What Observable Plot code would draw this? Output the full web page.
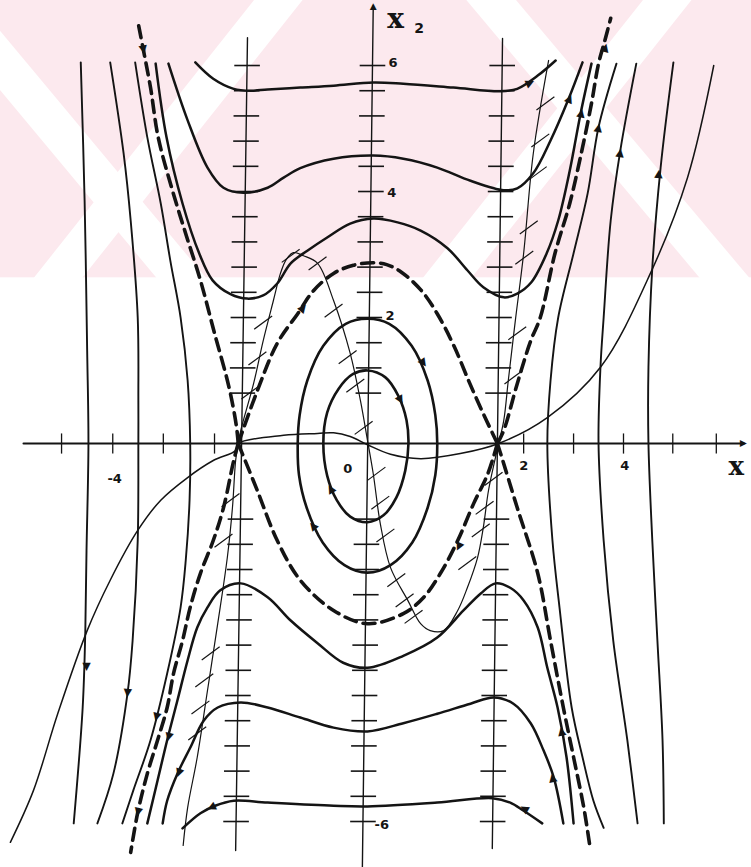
<!DOCTYPE html>
<html>
<head>
<meta charset="utf-8">
<script src="https://cdn.jsdelivr.net/npm/d3@7"></script>
<script src="https://cdn.jsdelivr.net/npm/@observablehq/plot@0.6"></script>
<style>
  body { margin: 0; background: #ffffff; }
  #chart svg { display: block; }
</style>
</head>
<body>
<div id="chart"></div>
<script>
// Phase portrait in the (x, x2) plane: centre at the origin, saddles at x = ±2.

// ---- straight isoclines (x2' = 0) and axes, as end points [x, x2] ----
const leftIsocline  = [[-1.875, 6.44], [-2.06, -6.46]];
const rightIsocline = [[2.11, 6.43], [1.95, -6.43]];
const x2Axis        = [[-0.08, -6.73], [0.09, 6.95]];
const xAxis         = [[-5.375, 0], [5.88, 0]];

// hatch levels (horizontal slope marks) along the isoclines and the x2 axis
const hatchLevels = [0.8, 1.2, 1.6, 2.0, 2.4, 2.8, 3.2, 3.6, 4.0, 4.4, 4.8, 5.2, 5.6, 6.0,
                     -1.2, -1.6, -2.0, -2.4, -2.8, -3.2, -3.6, -4.0, -4.4, -4.8, -5.2, -5.6, -6.0];
// tick marks on the x axis
const xTicks = [-4.78, -3.98, -3.19, -2.39, 2.44, 3.22, 4.0, 4.77, 5.45];

// ---- separatrices through the saddles (dashed) ----
const sepEyeTop = [[-2.02,0],[-1.72,0.84],[-1.41,1.59],[-1.09,2.06],[-0.84,2.43],[-0.53,2.70],[-0.22,2.83],[0.09,2.87],[0.30,2.84],[0.53,2.72],[0.84,2.43],[1.09,2.06],[1.35,1.55],[1.60,0.95],[1.82,0.45],[2.03,0]];
const sepEyeBottom = [[-2.02,0],[-1.72,-0.75],[-1.41,-1.54],[-1.05,-2.17],[-0.53,-2.65],[0,-2.86],[0.56,-2.70],[0.88,-2.44],[1.14,-2.06],[1.41,-1.54],[1.66,-0.95],[1.88,-0.48],[2.03,0]];
const sepUpperLeft = [[-2.02,0],[-2.05,0.29],[-2.17,0.92],[-2.39,1.75],[-2.61,2.59],[-2.84,3.33],[-3.06,4.06],[-3.27,4.86],[-3.39,5.65],[-3.50,6.24],[-3.59,6.71]];
const sepUpperRight = [[2.03,0],[2.13,0.21],[2.34,0.95],[2.55,1.63],[2.70,2.00],[2.93,3.02],[3.16,3.81],[3.36,4.70],[3.50,5.40],[3.61,6.03],[3.71,6.40],[3.80,6.75]];
const sepLowerLeft = [[-2.02,0],[-2.09,-0.27],[-2.25,-1.02],[-2.41,-1.54],[-2.61,-2.06],[-2.77,-2.60],[-2.89,-3.13],[-3.03,-3.65],[-3.13,-4.19],[-3.28,-4.71],[-3.44,-5.24],[-3.59,-5.86],[-3.70,-6.49]];
const sepLowerRight = [[2.03,0],[2.08,-0.16],[2.34,-1.02],[2.66,-2.06],[2.86,-3.13],[3.06,-4.19],[3.22,-4.98],[3.38,-5.78],[3.48,-6.43]];

// ---- closed orbits round the centre ----
const innerOrbit = [[0,1.16],[0.28,1.05],[0.48,0.76],[0.61,0.37],[0.64,0],[0.59,-0.43],[0.45,-0.86],[0.25,-1.14],[0,-1.25],[-0.27,-1.16],[-0.48,-0.90],[-0.63,-0.51],[-0.69,0],[-0.63,0.49],[-0.45,0.87],[-0.23,1.10]];
const middleOrbit = [[0,1.98],[0.34,1.90],[0.69,1.55],[0.94,1.00],[1.06,0.45],[1.09,0],[1.06,-0.50],[0.94,-1.02],[0.70,-1.57],[0.36,-1.93],[0,-2.05],[-0.36,-1.93],[-0.70,-1.57],[-0.95,-1.02],[-1.07,-0.50],[-1.09,0],[-1.06,0.45],[-0.94,1.00],[-0.69,1.55],[-0.34,1.90]];

// ---- trajectories above the separatrix ----
const upper1 = [[-2.69,6.05],[-2.41,5.79],[-2.09,5.63],[-1.83,5.60],[-1.56,5.62],[-1.05,5.65],[-0.53,5.68],[0.09,5.73],[0.56,5.71],[1.34,5.65],[2.08,5.59],[2.34,5.63],[2.66,5.84],[2.94,6.08]];
const upper2 = [[-3.11,6.03],[-2.81,5.13],[-2.50,4.38],[-2.25,4.06],[-1.94,3.98],[-1.56,4.06],[-1.31,4.22],[-1.05,4.37],[-0.53,4.52],[0.09,4.57],[0.56,4.52],[1.09,4.38],[1.61,4.17],[2.13,4.02],[2.34,4.05],[2.59,4.29],[2.86,4.81],[3.13,5.44],[3.36,6.05]];
const upper3 = [[-3.31,6.03],[-3.14,4.86],[-2.89,3.81],[-2.63,3.02],[-2.42,2.59],[-2.14,2.37],[-1.88,2.30],[-1.63,2.35],[-1.41,2.54],[-1.20,2.86],[-0.94,3.06],[-0.63,3.27],[-0.27,3.49],[0.09,3.57],[0.47,3.51],[0.83,3.38],[1.25,3.10],[1.56,2.75],[1.81,2.48],[2.13,2.32],[2.34,2.38],[2.56,2.56],[2.80,3.02],[2.98,3.54],[3.16,4.33],[3.33,5.24],[3.50,6.03]];

// ---- trajectories below the separatrix ----
const lower1 = [[-3.44,-6.03],[-3.28,-5.35],[-3.13,-4.71],[-2.97,-4.08],[-2.81,-3.44],[-2.66,-2.92],[-2.50,-2.60],[-2.30,-2.33],[-1.98,-2.22],[-1.56,-2.44],[-1.20,-2.81],[-0.78,-3.17],[-0.38,-3.48],[0,-3.56],[0.56,-3.37],[1.09,-3.08],[1.50,-2.65],[1.77,-2.38],[2.00,-2.22],[2.23,-2.29],[2.44,-2.49],[2.66,-2.92],[2.81,-3.56],[2.97,-4.19],[3.11,-4.98],[3.22,-6.03]];
const lower2 = [[-3.20,-6.03],[-3.13,-5.67],[-2.97,-5.24],[-2.77,-4.83],[-2.56,-4.40],[-2.34,-4.19],[-1.98,-4.11],[-1.56,-4.19],[-1.05,-4.35],[-0.53,-4.51],[0,-4.57],[0.56,-4.44],[1.09,-4.29],[1.61,-4.13],[1.97,-4.03],[2.28,-4.13],[2.55,-4.44],[2.75,-4.87],[2.91,-5.30],[3.06,-6.03]];
const lower3 = [[-2.89,-6.11],[-2.61,-5.87],[-2.38,-5.75],[-2.09,-5.67],[-1.56,-5.70],[-0.53,-5.75],[0,-5.76],[1.09,-5.70],[1.95,-5.63],[2.23,-5.70],[2.44,-5.83],[2.73,-6.03]];

// ---- trajectories outside the saddles ----
const outerLeft1 = [[-4.48,6.05],[-4.42,3.86],[-4.38,1.48],[-4.36,0],[-4.39,-1.70],[-4.41,-3.02],[-4.45,-4.19],[-4.59,-6.03]];
const outerLeft2 = [[-4.02,6.05],[-3.81,4.60],[-3.70,3.54],[-3.59,2.00],[-3.58,0.68],[-3.58,0],[-3.59,-1.54],[-3.67,-3.13],[-3.75,-3.97],[-3.97,-5.24],[-4.22,-6.03]];
const outerLeft3 = [[-3.63,6.05],[-3.44,4.86],[-3.23,3.81],[-3.08,2.90],[-2.92,2.00],[-2.81,1.00],[-2.77,0],[-2.78,-0.90],[-2.84,-1.86],[-2.92,-2.60],[-3.13,-3.65],[-3.39,-4.71],[-3.66,-5.51],[-3.83,-6.03]];
const outerRight1 = [[3.89,6.03],[3.61,5.02],[3.44,3.97],[3.22,3.02],[2.98,2.00],[2.86,1.00],[2.81,0],[2.89,-1.54],[3.00,-2.60],[3.19,-4.19],[3.36,-4.98],[3.53,-5.67],[3.69,-6.10]];
const outerRight2 = [[4.20,6.03],[3.95,4.65],[3.80,3.54],[3.69,2.00],[3.64,1.21],[3.61,0],[3.69,-1.54],[3.84,-3.13],[4.06,-4.71],[4.22,-6.03]];
const outerRight3 = [[4.78,6.05],[4.58,4.38],[4.45,2.79],[4.39,1.21],[4.39,0],[4.45,-1.54],[4.53,-3.13],[4.61,-4.71],[4.63,-6.03]];

// ---- curved isocline with its slope marks, and the cubic curve ----
const curvedIsocline = [[-2.88,-6.38],[-2.81,-5.78],[-2.66,-4.98],[-2.50,-3.92],[-2.34,-2.86],[-2.19,-1.81],[-2.11,-1.02],[-2.06,-0.27],[-2.02,0],[-1.98,0.21],[-1.78,0.95],[-1.63,1.63],[-1.47,2.27],[-1.36,2.70],[-1.27,2.92],[-1.16,3.03],[-1.00,2.98],[-0.78,2.86],[-0.53,2.27],[-0.27,1.43],[-0.11,0.68],[0,0.05],[0.09,-0.48],[0.20,-1.27],[0.36,-1.97],[0.63,-2.49],[0.83,-2.86],[0.98,-2.97],[1.19,-2.97],[1.41,-2.65],[1.56,-2.29],[1.72,-1.81],[1.81,-1.33],[1.89,-0.75],[2.00,-0.22],[2.05,0],[2.13,0.37],[2.20,1.00],[2.31,1.95],[2.44,3.02],[2.59,4.60],[2.83,6.08]];
const slopeMarks = [[-2.14,-0.90],[-2.25,-1.54],[-2.45,-3.33],[-2.55,-3.76],[-2.61,-4.19],[-2.66,-4.60],
                    [-1.83,0.81],[-1.72,1.35],[-1.63,1.92],[-1.20,2.98],[-0.78,2.86],
                    [-0.53,2.11],[-0.31,1.37],[-0.19,0.92],[-0.06,0.25],[0.14,-0.48],[0.20,-0.94],[0.28,-1.46],[0.45,-2.17],[0.58,-2.49],[0.72,-2.75],
                    [1.56,-1.90],[1.77,-1.38],[1.83,-1.02],[1.97,-0.56],
                    [2.28,1.05],[2.34,1.75],[2.45,2.95],[2.52,3.43],[2.66,4.29],[2.70,4.81],[2.78,5.40]];
const cubicCurve = [[-5.58,-6.33],[-5.22,-5.51],[-4.84,-4.29],[-4.38,-2.97],[-4.02,-2.17],[-3.59,-1.38],[-3.23,-0.90],[-2.81,-0.54],[-2.41,-0.27],[-2.06,-0.11],[-2.02,0],[-1.31,0.13],[-0.78,0.16],[-0.53,0.17],[-0.27,0.11],[0,-0.02],[0.36,-0.17],[0.83,-0.24],[1.45,-0.16],[2.05,0],[2.81,0.41],[3.64,1.21],[4.42,2.70],[5.00,4.22],[5.41,6.00]];

// ---- direction arrows: [x, x2, heading in degrees clockwise from up] ----
const flowArrows = [
  [-3.50,6.24,169],[3.72,6.29,15],[-3.59,-5.86,193],[-1.00,2.16,40],[1.42,-1.65,205],
  [0.52,0.68,150],[0.88,1.27,145],[-0.58,-0.71,330],[-0.86,-1.30,320],
  [3.16,5.48,23],[3.34,5.25,12],[3.61,5.02,10],[3.95,4.62,8],[4.55,4.29,5],
  [3.03,-4.56,348],[2.89,-5.30,348],[2.44,-5.79,300],[-2.45,-5.78,245],
  [-4.39,-3.56,180],[-3.75,-3.97,185],[-3.30,-4.35,194],[-3.11,-4.67,194],[-2.95,-5.24,200],
  [2.55,5.73,65]
];
const axisArrows = [[5.88,0,90],[0.09,6.95,0]];

// ---- labels ----
const x2TickLabels = [["6",0.33,6.05],["4",0.31,3.98],["2",0.28,2.03],["-6",0.11,-6.06]];
const xTickLabels  = [["0",-0.31,-0.40],["-4",-3.95,-0.56],["2",2.44,-0.35],["4",4.02,-0.35]];

// ---- pale background band with white diagonal stripes ----
const backgroundBand = {x1: -5.734, x2: 6.0, y1: 2.63, y2: 7.032};
const backgroundStripes = [
  [[-6.52,7.03],[-1.31,0.68]],
  [[-5.81,1.38],[-1.05,7.48]],
  [[1.61,7.43],[6.14,1.95]],
  [[0.52,1.70],[5.05,7.51]]
];

// helpers
const xOnLine = (line, y) => {
  const [[x0, y0], [x1, y1]] = line;
  return x0 + (x1 - x0) * (y - y0) / (y1 - y0);
};
const hatchAt = line => hatchLevels.map(y => [xOnLine(line, y), y]);
const ink = "#141414";
const solid = (data, w, curve = "catmull-rom") =>
  Plot.line(data, {stroke: ink, strokeWidth: w, curve, strokeLinecap: "round", strokeLinejoin: "round"});
const dashed = data =>
  Plot.line(data, {stroke: ink, strokeWidth: 3.6, curve: "catmull-rom", strokeDasharray: "12,7"});

// half-lengths of the little marks, in data units
const hatchHalf = 0.2, slopeDx = 0.14, slopeDy = 0.105, tickHalf = 0.16;

const chart = Plot.plot({
  width: 751,
  height: 867,
  margin: 0,
  x: {domain: [-5.734, 6.0], axis: null},
  y: {domain: [-6.73, 7.032], axis: null},
  style: {background: "#ffffff", overflow: "visible"},
  marks: [
    Plot.rect([backgroundBand], {x1: "x1", x2: "x2", y1: "y1", y2: "y2", fill: "#fce9ee"}),
    ...backgroundStripes.map(s => Plot.line(s, {stroke: "#ffffff", strokeWidth: 38, strokeLinecap: "butt"})),

    // axes and straight isoclines
    Plot.line(xAxis, {stroke: ink, strokeWidth: 2}),
    Plot.line(x2Axis, {stroke: ink, strokeWidth: 1.4}),
    Plot.line(leftIsocline, {stroke: ink, strokeWidth: 1.4}),
    Plot.line(rightIsocline, {stroke: ink, strokeWidth: 1.4}),
    Plot.link(xTicks, {x1: d => d, x2: d => d, y1: -tickHalf, y2: tickHalf, stroke: ink, strokeWidth: 1.3}),
    ...[leftIsocline, rightIsocline, x2Axis].map(line =>
      Plot.link(hatchAt(line), {
        x1: d => d[0] - hatchHalf, x2: d => d[0] + hatchHalf,
        y1: d => d[1], y2: d => d[1], stroke: ink, strokeWidth: 1.6
      })),

    // curved isocline, its slope marks, and the cubic curve
    solid(curvedIsocline, 1.2),
    Plot.link(slopeMarks, {
      x1: d => d[0] - slopeDx, y1: d => d[1] - slopeDy,
      x2: d => d[0] + slopeDx, y2: d => d[1] + slopeDy, stroke: ink, strokeWidth: 1.2
    }),
    solid(cubicCurve, 1.5),

    // trajectories
    solid(innerOrbit, 2.6, "catmull-rom-closed"),
    solid(middleOrbit, 2.6, "catmull-rom-closed"),
    ...[upper1, upper2, upper3, lower1, lower2, lower3].map(d => solid(d, 2.5)),
    ...[outerLeft1, outerLeft2, outerLeft3, outerRight1, outerRight2, outerRight3].map(d => solid(d, 1.9)),

    // separatrices
    ...[sepEyeTop, sepEyeBottom, sepUpperLeft, sepUpperRight, sepLowerLeft, sepLowerRight].map(dashed),

    // arrowheads
    Plot.text(flowArrows, {x: d => d[0], y: d => d[1], rotate: d => d[2], text: () => "\u25B2",
      fill: ink, fontSize: 11, fontFamily: "DejaVu Sans", textAnchor: "middle", lineAnchor: "middle"}),
    Plot.text(axisArrows, {x: d => d[0], y: d => d[1], rotate: d => d[2], text: () => "\u25B2",
      fill: ink, fontSize: 9, fontFamily: "DejaVu Sans", textAnchor: "middle", lineAnchor: "middle"}),

    // labels
    Plot.text(x2TickLabels, {x: d => d[1], y: d => d[2], text: d => d[0], textAnchor: "start",
      fill: ink, fontSize: 13, fontWeight: "bold", fontFamily: "DejaVu Sans", lineAnchor: "middle"}),
    Plot.text(xTickLabels, {x: d => d[1], y: d => d[2], text: d => d[0], textAnchor: "middle",
      fill: ink, fontSize: 13, fontWeight: "bold", fontFamily: "DejaVu Sans", lineAnchor: "middle"}),
    Plot.text([[5.76, -0.36]], {text: () => "x", fontSize: 26, fontWeight: "bold",
      fontFamily: "DejaVu Serif", fill: ink, textAnchor: "middle", lineAnchor: "middle"}),
    Plot.text([[0.31, 6.73]], {text: () => "x", fontSize: 28, fontWeight: "bold",
      fontFamily: "DejaVu Serif", fill: ink, textAnchor: "start", lineAnchor: "middle"}),
    Plot.text([[0.73, 6.58]], {text: () => "2", fontSize: 14, fontWeight: "bold",
      fontFamily: "DejaVu Sans", fill: ink, textAnchor: "start", lineAnchor: "middle"})
  ]
});

document.getElementById("chart").appendChild(chart);
</script>
</body>
</html>
